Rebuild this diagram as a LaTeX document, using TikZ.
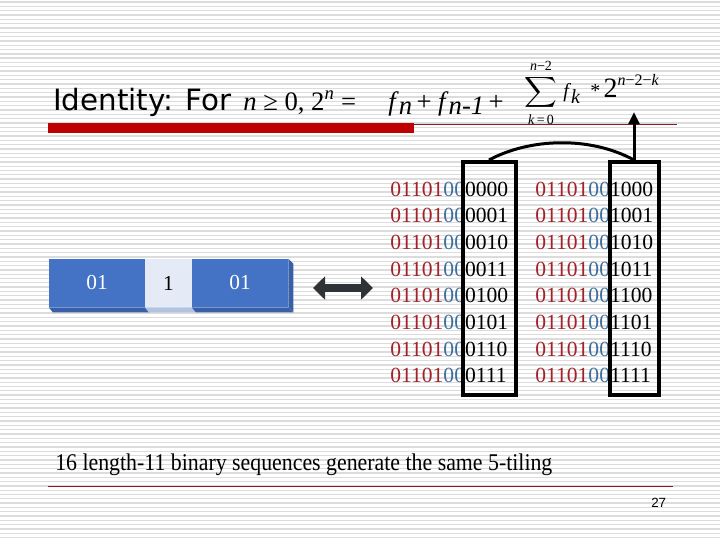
\documentclass[tikz,border=0pt]{standalone}
\usepackage{fontspec}
\setmainfont{Liberation Serif}
\newfontfamily\titlefont{DejaVu Sans}
\newfontfamily\pagefont{Liberation Sans}
\newfontfamily\narrowserif[FakeStretch=0.91]{Liberation Serif}
\usetikzlibrary{arrows.meta, positioning, calc}
\definecolor{bgline}{HTML}{DCDCDC}
\definecolor{titlered}{HTML}{C00000}
\definecolor{rulered}{HTML}{8C1C1C}
\definecolor{bitred}{HTML}{A3222A}
\definecolor{bitblue}{HTML}{3D6E9E}
\definecolor{tileblue}{HTML}{4472C4}
\definecolor{tileedge}{HTML}{3760A8}
\definecolor{tilelight}{HTML}{E4EBF6}
\definecolor{tilelightedge}{HTML}{B3C3DF}
\definecolor{arrowgray}{HTML}{2F3338}
\newcommand{\redbits}[1]{\textcolor{bitred}{#1}}
\newcommand{\bluebits}[1]{\textcolor{bitblue}{#1}}
\newcommand{\lowsub}[1]{\raisebox{-0.18em}{#1}}

\tikzset{
  bits/.style={inner sep=0pt, anchor=base west, font=\fontsize{16.2}{18}\selectfont},
  colbox/.style={draw=black, line width=3pt, inner sep=0pt, minimum height=174.75pt},
  tileface/.style={inner sep=0pt, minimum height=36pt, font=\fontsize{16}{18}\selectfont},
  link/.style={draw=black, line width=2.25pt},
  dblarrow/.style={draw=arrowgray, line width=6pt,
    {Triangle[length=9pt,width=17pt]}-{Triangle[length=9pt,width=17pt]}},
  mathpart/.style={inner sep=0pt, anchor=base west, font=\rmfamily\fontsize{20}{24}\selectfont},
  sumlimit/.style={inner sep=0pt, font=\rmfamily\fontsize{10.5}{12}\selectfont}
}

\begin{document}
\begin{tikzpicture}[x=0.75pt, y=-0.75pt]
  \useasboundingbox (0,0) rectangle (720,540);
  \fill[white] (0,0) rectangle (720,540);

  % lined background
  \foreach \k in {0,...,124}
    \draw[bgline, line width=1pt] (0,2+4.32*\k) -- (720,2+4.32*\k);

  % title
  \node[inner sep=0pt, anchor=base west, font=\titlefont\fontsize{22}{26}\selectfont] (ttl) at (53,110) {Identity: For};
  \node[mathpart] (cond) at (243,110) {\textit{n} ≥ 0, 2\textsuperscript{\textit{n}} =};
  \node[mathpart] (rec) at (388,110) {\textit{f}\lowsub{\textit{n}}\,+ \textit{f}\lowsub{\textit{n-1}}\,+};
  \node[inner sep=0pt] (sum) at (541,98) {\smash{\scalebox{1.7}[1.6]{$\displaystyle\sum$}}};
  \node[sumlimit] (sumtop) at (541,66) {\textit{n}−2};
  \node[sumlimit] (sumbot) at (541,120) {\textit{k}\,=\,0};
  \node[inner sep=0pt, anchor=base west] (term) at (563,97)
    {{\fontsize{15}{17}\selectfont\textit{f}\raisebox{-0.3em}{\textit{k}}\ \ *}\ {\fontsize{21}{24}\selectfont 2}\raisebox{0.9em}{\fontsize{12}{13}\selectfont\textit{n}−2−\textit{k}}};

  % title rule
  \draw[rulered, line width=0.75pt] (48,124) -- (677,124);
  \fill[titlered] (48,123) rectangle (414,133);

  % binary sequences
  \foreach \s [count=\i from 0] in {0000,0001,0010,0011,0100,0101,0110,0111}
    \node[bits] (lrow\i) at (390,196+26.7*\i) {\redbits{01101}\bluebits{00}\s};
  \foreach \s [count=\i from 0] in {1000,1001,1010,1011,1100,1101,1110,1111}
    \node[bits] (rrow\i) at (535,196+26.7*\i) {\redbits{01101}\bluebits{00}\s};

  % boxes round the last four bits
  \node[colbox, minimum width=39.75pt] (lbox) at (489,278.5) {};
  \node[colbox, minimum width=36.75pt] (rbox) at (634,278.5) {};
  \coordinate (tip) at (634,112);
  \draw[link] (lbox.north) .. controls (530,138) and (590,136) .. (rbox.north);
  \draw[link, -{Triangle[length=9pt,width=8pt]}] (rbox.north) -- (tip);

  % the 5-tiling
  \node[tileface, minimum width=72pt, fill=tileblue, text=white] (t1) at (97,283) {01};
  \node[tileface, minimum width=35.25pt, fill=tilelight] (t2) at (168.5,283) {1};
  \node[tileface, minimum width=72pt, fill=tileblue, text=white] (t3) at (240,283) {01};
  \fill[tileedge] (t1.south west) -- ++(4,5) -- ($(t1.south east)+(4,5)$) -- (t1.south east) -- cycle;
  \fill[tilelightedge] (t2.south west) -- ++(4,5) -- ($(t2.south east)+(4,5)$) -- (t2.south east) -- cycle;
  \fill[tileedge] (t3.south west) -- ++(4,5) -- ($(t3.south east)+(5,5)$) -- (t3.south east) -- cycle;
  \fill[tileedge] (t3.north east) -- ++(5,5) -- ($(t3.south east)+(5,5)$) -- (t3.south east) -- cycle;

  % correspondence arrow
  \coordinate (al) at (313,288);
  \coordinate (ar) at (373,288);
  \draw[dblarrow] (al) -- (ar);

  % caption
  \node[inner sep=0pt, anchor=base west, font=\narrowserif\fontsize{18}{20}\selectfont] (cap) at (55,470)
    {16 length-11 binary sequences generate the same 5-tiling};
  \draw[rulered, line width=0.75pt] (48,486) -- (673,486);
  \node[inner sep=0pt, anchor=base west, font=\pagefont\fontsize{10}{12}\selectfont] (pg) at (651,507) {27};
\end{tikzpicture}
\end{document}
